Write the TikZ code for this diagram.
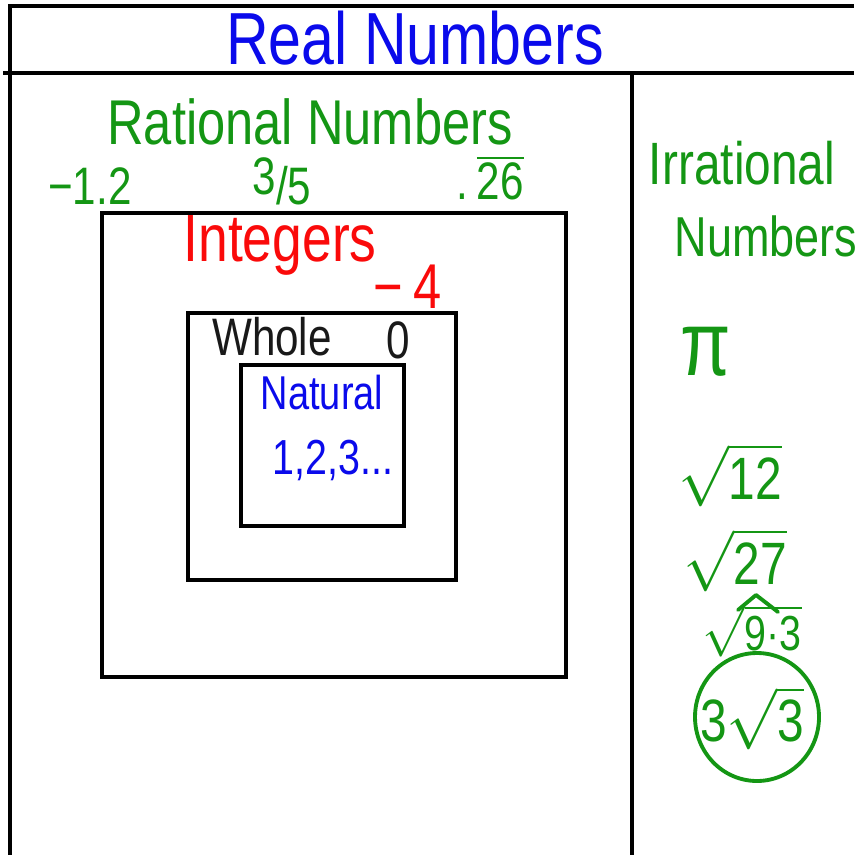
\documentclass[tikz,border=0pt]{standalone}
\usepackage{fontspec}
\usepackage{tikz}
\usetikzlibrary{positioning,shapes.geometric}
\newfontfamily\hand[FakeStretch=0.8]{Liberation Sans}
\definecolor{realblue}{RGB}{10,10,235}
\definecolor{handgreen}{RGB}{20,150,20}
\definecolor{intred}{RGB}{250,10,10}
\definecolor{wholeblack}{RGB}{25,25,25}

\begin{document}
\begin{tikzpicture}[
    x=0.01cm, y=-0.01cm,
    frame/.style={line width=1.4pt, draw=black},
    setbox/.style={rectangle, draw=black, line width=1.2pt, inner sep=0pt},
    label/.style={inner sep=0pt, font=\hand},
    ink/.style={line width=1.1pt, draw=handgreen, line cap=round, line join=round}
]
\useasboundingbox (0,0) rectangle (854,855);

% Frame
\draw[frame] (10,855) -- (10,6) -- (854,6);
\draw[frame] (3,73) -- (854,73);
\draw[frame] (632,73) -- (632,855);

% Title
\node[label, text=realblue, font=\hand\fontsize{21}{24}\selectfont] (title) at (415,38) {Real Numbers};

% Rational numbers
\node[label, text=handgreen, font=\hand\fontsize{18}{21}\selectfont] (rat) at (310,122) {Rational Numbers};
\node[label, text=handgreen, font=\hand\fontsize{15}{18}\selectfont] (r1) at (90,186) {−1.2};
\node[label, text=handgreen, font=\hand\fontsize{15}{18}\selectfont] (r2) at (282,181) {\raisebox{0.35ex}{3}/5};
\node[label, text=handgreen, font=\hand\fontsize{15}{18}\selectfont] (r3) at (490,178) {.\,$\overline{\mbox{26}}$};

% Nested sets
\node[setbox, minimum width=4.64cm, minimum height=4.64cm] (intbox) at (334,445) {};
\node[setbox, minimum width=2.68cm, minimum height=2.67cm] (wholebox) at (322,446.5) {};
\node[setbox, minimum width=1.63cm, minimum height=1.61cm] (natbox) at (322.5,445.5) {};

% Integers
\node[label, text=intred, font=\hand\fontsize{19}{22}\selectfont] (ints) at (280,245) {Integers};
\node[label, text=intred, font=\hand\fontsize{18}{21}\selectfont] (i1) at (408,287) {−\,4};

% Whole
\node[label, text=wholeblack, font=\hand\fontsize{15}{18}\selectfont] (whole) at (272,337) {Whole};
\node[label, text=wholeblack, font=\hand\fontsize{15}{18}\selectfont] (w1) at (398,340) {0};

% Natural
\node[label, text=realblue, font=\hand\fontsize{13.5}{16}\selectfont] (nat) at (322,393) {Natural};
\node[label, text=realblue, font=\hand\fontsize{14}{17}\selectfont] (n1) at (333,460) {1,2,3...};

% Irrational numbers
\node[label, text=handgreen, font=\hand\fontsize{17}{20}\selectfont] (irr) at (742,163) {Irrational};
\node[label, text=handgreen, font=\hand\fontsize{16}{19}\selectfont] (irrnum) at (766,236) {Numbers};
\node[label, text=handgreen, font=\hand\fontsize{26}{30}\selectfont] (q1) at (706,352) {π};
\node[label, text=handgreen, font=\hand\fontsize{17}{20}\selectfont] (q2) at (730,475) {$\sqrt{\mbox{12}}$};
\node[label, text=handgreen, font=\hand\fontsize{17}{20}\selectfont] (q3) at (735,560) {$\sqrt{\mbox{27}}$};
\node[label, text=handgreen, font=\hand\fontsize{14}{17}\selectfont] (q4) at (752,631) {$\sqrt{\mbox{9·3}}$};
\node[label, text=handgreen, font=\hand\fontsize{17}{20}\selectfont] (q5) at (752,718) {3$\sqrt{\mbox{3}}$};
\draw[ink] (q5.center) ++(5,-1) ellipse [x radius=62, y radius=64];

% Caret between the roots
\coordinate (c1) at (738,610);
\coordinate (c2) at (756,595);
\coordinate (c3) at (778,612);
\draw[ink] (c1) -- (c2) -- (c3);

\end{tikzpicture}
\end{document}
